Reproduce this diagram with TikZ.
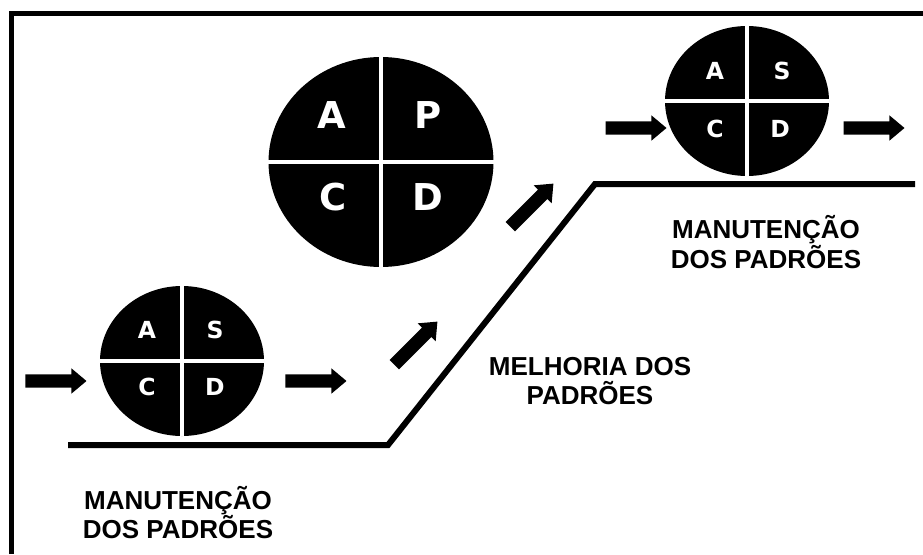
\documentclass[tikz,border=0pt]{standalone}
\usepackage{fontspec}
\setmainfont{Liberation Sans}
\newfontfamily\letterfont{DejaVu Sans}
\usetikzlibrary{shapes.geometric,shapes.arrows}
\begin{document}
\begin{tikzpicture}[x=1pt,y=-1pt,
  disc/.style={ellipse, fill=black, draw=none, inner sep=0pt},
  smalldisc/.style={disc, minimum width=164pt, minimum height=150pt},
  bigdisc/.style={disc, minimum width=225pt, minimum height=210pt},
  divider/.style={white, line width=3.5pt},
  bigletter/.style={text=white, font=\letterfont\fontsize{37}{37}\selectfont\bfseries, inner sep=0pt},
  smallletter/.style={text=white, font=\letterfont\fontsize{23.5}{23.5}\selectfont\bfseries, inner sep=0pt},
  blockarrow/.style={single arrow, fill=black, draw=none, inner xsep=0pt, inner ysep=6.5pt, text height=0pt, text depth=0pt, single arrow head extend=6pt, minimum height=61pt, single arrow tip angle=80},
  caption/.style={anchor=base, font=\fontsize{26}{30}\selectfont\bfseries, inner sep=0pt},
  stepline/.style={line width=6pt, line join=miter},
  frameline/.style={line width=5pt, line join=miter}
]
\fill[white, use as bounding box] (0,0) rectangle (923,554);

% frame
\coordinate (f1) at (11.5,554);
\coordinate (f2) at (11.5,13.5);
\coordinate (f3) at (923,13.5);
\draw[frameline] (f1) -- (f2) -- (f3);

% step line
\coordinate (s1) at (68,445);
\coordinate (s2) at (388,445);
\coordinate (s3) at (595,184);
\coordinate (s4) at (915,184);
\draw[stepline] (s1) -- (s2) -- (s3) -- (s4);

% circles
\node[smalldisc] (c1) at (182,361) {};
\draw[divider] (c1.north) -- (c1.south);
\draw[divider] (c1.west) -- (c1.east);
\node[smallletter] (c1a) at (147,330) {A};
\node[smallletter] (c1s) at (215,330) {S};
\node[smallletter] (c1c) at (147,387) {C};
\node[smallletter] (c1d) at (215,387) {D};

\node[bigdisc] (c2) at (381,162) {};
\draw[divider] (c2.north) -- (c2.south);
\draw[divider] (c2.west) -- (c2.east);
\node[bigletter] (c2a) at (332,115) {A};
\node[bigletter] (c2p) at (428,115) {P};
\node[bigletter] (c2c) at (333,197) {C};
\node[bigletter] (c2d) at (428,197) {D};

\node[smalldisc] (c3) at (747,101) {};
\draw[divider] (c3.north) -- (c3.south);
\draw[divider] (c3.west) -- (c3.east);
\node[smallletter] (c3a) at (715,71) {A};
\node[smallletter] (c3s) at (782,71) {S};
\node[smallletter] (c3c) at (715,129) {C};
\node[smallletter] (c3d) at (780,129) {D};

% arrows
\node[blockarrow] (a1) at (52,381) {};
\node[blockarrow] (a2) at (312,381) {};
\node[blockarrow, rotate=45] (a3) at (413,346) {};
\node[blockarrow, rotate=45] (a4) at (529,208) {};
\node[blockarrow] (a5) at (632,128) {};
\node[blockarrow] (a6) at (870,128) {};

% captions
\node[caption] (t1a) at (178,509) {MANUTENÇÃO};
\node[caption] (t1b) at (178,538) {DOS PADRÕES};
\node[caption] (t2a) at (590,375) {MELHORIA DOS};
\node[caption] (t2b) at (590,404) {PADRÕES};
\node[caption] (t3a) at (766,238) {MANUTENÇÃO};
\node[caption] (t3b) at (766,268) {DOS PADRÕES};
\end{tikzpicture}
\end{document}
